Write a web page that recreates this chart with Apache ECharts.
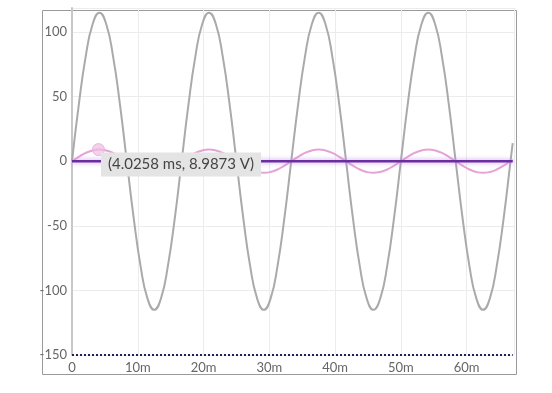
<!DOCTYPE html>
<html><head><meta charset="utf-8">
<script src="https://cdn.jsdelivr.net/npm/echarts@6/dist/echarts.min.js"></script>
<style>html,body{margin:0;padding:0;background:#fff}#c{width:552px;height:393px}</style>
</head><body><div id="c"></div>
<script>
// time samples in ms
var timeMs = [0,1.04,2.08,3.13,4.17,5.21,6.25,7.29,8.33,9.38,10.42,11.46,12.5,13.54,14.58,15.63,
 16.67,17.71,18.75,19.79,20.83,21.88,22.92,23.96,25.0,26.04,27.08,28.13,29.17,30.21,31.25,32.29,
 33.33,34.38,35.42,36.46,37.5,38.54,39.58,40.63,41.67,42.71,43.75,44.79,45.83,46.88,47.92,48.96,
 50.0,51.04,52.08,53.13,54.17,55.21,56.25,57.29,58.33,59.38,60.42,61.46,62.5,63.54,64.58,65.63,66.67,67.0];
// gray supply voltage (V)
var voltGray = [0,44,81,106,115,106,81,44,0,-44,-81,-106,-115,-106,-81,-44,
 0,44,81,106,115,106,81,44,0,-44,-81,-106,-115,-106,-81,-44,
 0,44,81,106,115,106,81,44,0,-44,-81,-106,-115,-106,-81,-44,
 0,44,81,106,115,106,81,44,0,-44,-81,-106,-115,-106,-81,-44,0,14];
// pink signal (V)
var voltPink = [0,3.4,6.4,8.3,9.0,8.3,6.4,3.4,0,-3.4,-6.4,-8.3,-9.0,-8.3,-6.4,-3.4,
 0,3.4,6.4,8.3,9.0,8.3,6.4,3.4,0,-3.4,-6.4,-8.3,-9.0,-8.3,-6.4,-3.4,
 0,3.4,6.4,8.3,9.0,8.3,6.4,3.4,0,-3.4,-6.4,-8.3,-9.0,-8.3,-6.4,-3.4,
 0,3.4,6.4,8.3,9.0,8.3,6.4,3.4,0,-3.4,-6.4,-8.3,-9.0,-8.3,-6.4,-3.4,0,1.1];
// purple flat line
var purpleT = [0,67.0];
var purpleV = [0,0];
// dotted bottom line
var dottedT = [0,67.0];
var dottedV = [-150,-150];
// hovered point
var hoverPoint = [4.0258, 8.9873];
var yTicks = [-150,-100,-50,0,50,100];
var xTicks = [0,10,20,30,40,50,60];

function zip(a,b){return a.map(function(v,i){return [v,b[i]];});}

var chart = echarts.init(document.getElementById('c'), null, {renderer:'canvas'});
chart.setOption({
  animation:false,
  grid:{left:72,right:38,top:8,bottom:38},
  graphic:[{type:'rect',left:40,top:8,shape:{width:474,height:364},style:{fill:'none',stroke:'#9a9a9a',lineWidth:1},silent:true,z:-1}],
  xAxis:{type:'value',min:0,max:67.2,interval:10,
    axisLine:{show:false},axisTick:{show:false},
    splitLine:{show:true,lineStyle:{color:'#ececec',width:1}},
    axisLabel:{showMaxLabel:false,margin:6,color:'#666',fontFamily:'Lato',fontSize:13,
      formatter:function(v){return v===0?'0':v+'m';}}},
  yAxis:{type:'value',min:-150,max:118.6,interval:50,
    axisLine:{show:true,onZero:false,lineStyle:{color:'#c8c8c8',width:2}},axisTick:{show:false},
    splitLine:{show:true,lineStyle:{color:'#ececec',width:1}},
    axisLabel:{showMaxLabel:false,margin:5,color:'#666',fontFamily:'Lato',fontSize:13}},
  series:[
    {type:'line',data:zip(timeMs,voltGray),smooth:true,symbol:'none',
      lineStyle:{color:'#aaaaaa',width:2}},
    {type:'line',data:zip(timeMs,voltPink),smooth:true,symbol:'none',
      lineStyle:{color:'#e6a3d6',width:2},
      markPoint:{symbol:'circle',symbolSize:12,
        itemStyle:{color:'rgba(240,190,225,0.7)',borderColor:'#eeb0dc',borderWidth:1},
        data:[{coord:hoverPoint,value:'('+hoverPoint[0]+' ms, '+hoverPoint[1]+' V)'}],
        label:{show:true,position:'right',distance:5,offset:[-9,15],
          formatter:function(p){return p.value;},
          backgroundColor:'#e4e4e4',color:'#444',fontFamily:'Lato',fontSize:15,padding:[5,7,4,7]}}},
    {type:'line',data:zip(purpleT,purpleV),symbol:'none',
      lineStyle:{color:'#6b2ea0',width:2.5,shadowColor:'rgba(190,140,235,0.9)',shadowBlur:5}},
    {type:'line',data:zip(dottedT,dottedV),symbol:'none',
      lineStyle:{color:'#1f1f5a',width:2,type:[2,2]}}
  ]
});
</script></body></html>
